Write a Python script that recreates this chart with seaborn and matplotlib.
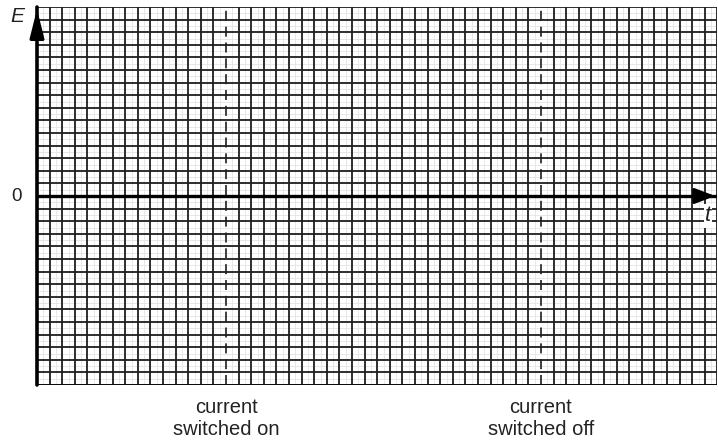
import matplotlib
matplotlib.use("Agg")
import matplotlib.pyplot as plt
import numpy as np
import pandas as pd
import seaborn as sns

# Graph-paper extent (in grid squares) and the two switching events
t_squares = 54
e_squares = 15
event_times = [15, 40]
event_labels = ["current\nswitched on", "current\nswitched off"]
axis_labels = {"y": "E", "x": "t", "origin": "0"}

sns.set_theme(style="white")
plt.rcParams["font.family"] = ["Liberation Sans", "DejaVu Sans"]

fig = plt.figure(figsize=(7.18, 4.45), dpi=100)
ax = fig.add_axes([37 / 718, 60 / 445, 680.4 / 718, 378 / 445])
ax.set_xlim(0, t_squares)
ax.set_ylim(-e_squares, e_squares)

# Fine subdivisions, then the main squares
for v in np.arange(0.5, t_squares, 1.0):
    ax.axvline(v, color="#e4e4e4", lw=0.6, zorder=1)
for v in np.arange(-e_squares + 0.5, e_squares, 1.0):
    ax.axhline(v, color="#e4e4e4", lw=0.6, zorder=1)
for v in range(0, t_squares + 1):
    if v in event_times:
        continue
    ax.axvline(v, color="#1e1e1e", lw=1.3, zorder=2)
for v in range(-e_squares, e_squares + 1):
    ax.axhline(v, color="#1e1e1e", lw=1.3, zorder=2)

# Dashed markers for the switching instants
ev = pd.DataFrame({"t": [t for t in event_times for _ in (0, 1)],
                   "E": [y for _ in event_times for y in (-e_squares, e_squares)],
                   "event": [lab for lab in event_labels for _ in (0, 1)]})
sns.lineplot(data=ev, x="t", y="E", units="event", estimator=None,
             color="#1e1e1e", lw=1.2, ax=ax, zorder=3, legend=False)
for line in ax.lines[-len(event_times):]:
    line.set_dashes((6, 3.5))

# Main axes
ax.axhline(0, color="black", lw=2.4, zorder=4)
ax.axvline(0, color="black", lw=2.6, zorder=4, clip_on=False)
ax.axhline(-e_squares, color="black", lw=1.8, zorder=4)

ax.annotate("", xy=(0, e_squares + 0.05), xytext=(0, e_squares - 2.0),
            arrowprops=dict(arrowstyle="-|>,head_length=1.4,head_width=0.35",
                            color="black", lw=2.4, mutation_scale=12),
            annotation_clip=False, zorder=5)
ax.annotate("", xy=(t_squares + 0.05, 0), xytext=(t_squares - 1.5, 0),
            arrowprops=dict(arrowstyle="-|>,head_length=1.0,head_width=0.38",
                            color="black", lw=2.4, mutation_scale=12),
            annotation_clip=False, zorder=5)

ax.set_xticks([])
ax.set_yticks([])
ax.set_xlabel("")
ax.set_ylabel("")
for s in ax.spines.values():
    s.set_visible(False)

# Axis annotations
fig.text(17 / 718, 1 - 17 / 445, axis_labels["y"], fontsize=15, style="italic",
         ha="center", va="center", color="#222")
fig.text(17 / 718, 1 - 197 / 445, axis_labels["origin"], fontsize=13.5,
         ha="center", va="center", color="#222")
fig.text(708 / 718, 1 - 216 / 445, axis_labels["x"], fontsize=16, style="italic",
         ha="center", va="center", color="#222",
         bbox=dict(facecolor="white", edgecolor="none", pad=1.0))

for t, lab in zip(event_times, event_labels):
    ax.text(t, -e_squares - 1.0, lab, fontsize=14.5, ha="center", va="top",
            color="#222", linespacing=1.2)

fig.savefig("out.png", dpi=100)
